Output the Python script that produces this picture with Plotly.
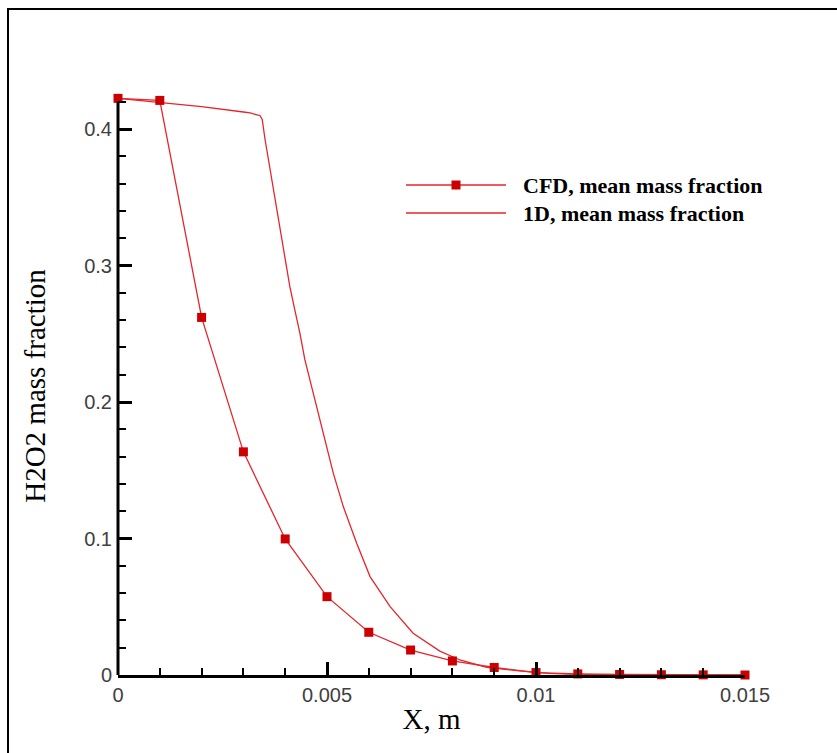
import plotly.graph_objects as go

# CFD mean mass fraction, sampled every millimetre
cfd_x = [0.0, 0.001, 0.002, 0.003, 0.004, 0.005, 0.006, 0.007, 0.008,
         0.009, 0.010, 0.011, 0.012, 0.013, 0.014, 0.015]
cfd_y = [0.4225, 0.421, 0.262, 0.1635, 0.0997, 0.0574, 0.0313, 0.0183, 0.0103,
         0.0055, 0.0018, 0.0008, 0.0004, 0.0002, 0.0001, 0.0]

# 1D model mean mass fraction
oned_x = [0.0, 0.001, 0.002, 0.003, 0.00316, 0.0034, 0.00345, 0.00352, 0.00364,
          0.00376, 0.00388, 0.0040, 0.00411, 0.00423, 0.00435, 0.00447, 0.00459,
          0.0047, 0.00491, 0.00515, 0.00539, 0.00571, 0.00603, 0.00651, 0.00706,
          0.0077, 0.00818, 0.00882, 0.00954, 0.0103, 0.011, 0.012, 0.013, 0.014, 0.015]
oned_y = [0.4225, 0.4195, 0.4165, 0.4125, 0.4118, 0.4098, 0.407, 0.392, 0.370,
          0.348, 0.326, 0.304, 0.2847, 0.2676, 0.2507, 0.231, 0.2163,
          0.2028, 0.1772, 0.1479, 0.1234, 0.0966, 0.0721, 0.0501, 0.0306,
          0.0175, 0.011, 0.0056, 0.0032, 0.0012, 0.0004, 0.0001, 0.0, 0.0, 0.0]

x_ticks = [0, 0.005, 0.01, 0.015]
x_tick_text = ["0", "0.005", "0.01", "0.015"]
y_ticks = [0, 0.1, 0.2, 0.3, 0.4]
y_tick_text = ["0", "0.1", "0.2", "0.3", "0.4"]

series_names = ["CFD, mean mass fraction", "1D, mean mass fraction"]

LINE_RED = "#e4262c"
MARK_RED = "#cc0000"

Y_TOP = 0.4235      # headroom so the first points are not clipped
Y_AXIS_END = 0.42   # visible extent of the left axis line

W, H = 837, 753
L, R, B = 118, 92, 78
PX_PER_UNIT = 1364.0
T = int(round(H - B - Y_TOP * PX_PER_UNIT))
PW, PH = W - L - R, H - T - B


def px_x(p):
    return (p - L) / PW


def px_y(p):
    return (H - B - p) / PH


fig = go.Figure()

fig.add_trace(go.Scatter(
    x=oned_x, y=oned_y, mode="lines", name=series_names[1],
    line=dict(color=LINE_RED, width=1.3), cliponaxis=False, showlegend=False,
))
fig.add_trace(go.Scatter(
    x=cfd_x, y=cfd_y, mode="lines+markers", name=series_names[0],
    line=dict(color=LINE_RED, width=1.3),
    marker=dict(symbol="square", size=9, color=MARK_RED),
    cliponaxis=False, showlegend=False,
))

tick_font = dict(family="Liberation Sans, Arial, sans-serif", size=20, color="#404040")
title_font = dict(family="Liberation Serif, Times New Roman, serif", size=29, color="black")

fig.update_xaxes(
    range=[0, 0.015], tickvals=x_ticks, ticktext=x_tick_text,
    ticks="inside", ticklen=13, tickwidth=2.5, tickcolor="black",
    minor=dict(dtick=0.001, tick0=0, ticks="inside", ticklen=7, tickwidth=1.5, tickcolor="black"),
    showline=True, linecolor="black", linewidth=3, showgrid=False, zeroline=False,
    tickfont=tick_font,
    title=dict(text="X, m", font=title_font, standoff=4),
)
fig.update_yaxes(
    range=[0, Y_TOP], tickvals=y_ticks, ticktext=y_tick_text,
    ticks="inside", ticklen=14, tickwidth=2.5, tickcolor="black",
    minor=dict(dtick=0.02, tick0=0, ticks="inside", ticklen=8, tickwidth=1.5, tickcolor="black"),
    showline=False, showgrid=False, zeroline=False,
    tickfont=tick_font, ticklabelstandoff=5,
    title=dict(text="H2O2 mass fraction", font=title_font, standoff=30),
)

shapes = []
# left axis line, stopping at 0.42
shapes.append(dict(type="line", xref="paper", yref="y",
                   x0=0, x1=0, y0=0, y1=Y_AXIS_END,
                   line=dict(color="black", width=3), layer="above"))
# outer frame (top and left edges visible)
shapes.append(dict(type="rect", xref="paper", yref="paper",
                   x0=px_x(8), x1=px_x(W + 10), y0=px_y(H + 10), y1=px_y(9),
                   line=dict(color="black", width=2), layer="below"))

# legend samples
legend_rows = [185, 213]
for row in legend_rows:
    shapes.append(dict(type="line", xref="paper", yref="paper",
                       x0=px_x(406), x1=px_x(506), y0=px_y(row), y1=px_y(row),
                       line=dict(color=LINE_RED, width=1.3)))
shapes.append(dict(type="rect", xref="paper", yref="paper",
                   x0=px_x(451.5), x1=px_x(460.5), y0=px_y(189.5), y1=px_y(180.5),
                   fillcolor=MARK_RED, line=dict(width=0)))

annotations = []
for name, row in zip(series_names, legend_rows):
    annotations.append(dict(
        xref="paper", yref="paper", x=px_x(521), y=px_y(row),
        xanchor="left", yanchor="middle", showarrow=False, text="<b>%s</b>" % name,
        font=dict(family="Liberation Serif, Times New Roman, serif", size=22, color="black"),
    ))

fig.update_layout(
    width=W, height=H,
    margin=dict(l=L, r=R, t=T, b=B),
    paper_bgcolor="white", plot_bgcolor="white",
    shapes=shapes, annotations=annotations, showlegend=False,
)

fig.write_html("out.html")
